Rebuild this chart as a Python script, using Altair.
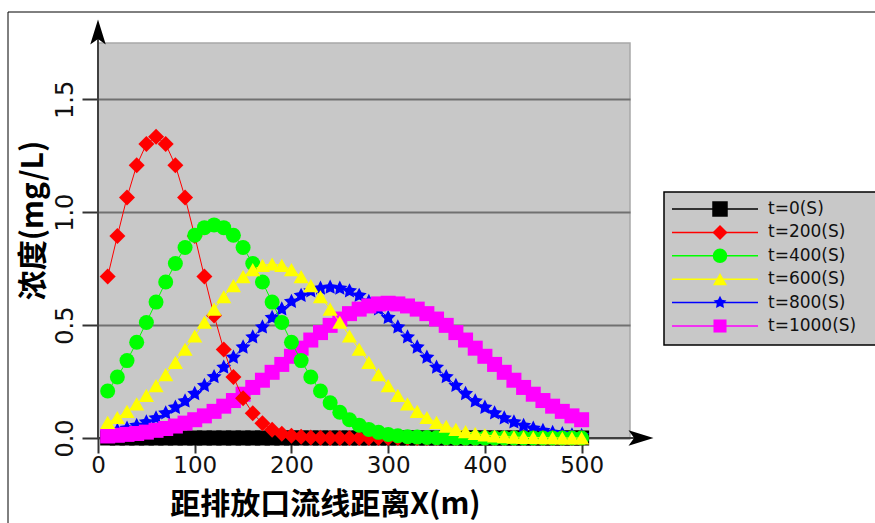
import altair as alt
import pandas as pd

# Distance along the streamline from the outfall (m)
distance_m = [10, 20, 30, 40, 50, 60, 70, 80, 90, 100,
              110, 120, 130, 140, 150, 160, 170, 180, 190, 200,
              210, 220, 230, 240, 250, 260, 270, 280, 290, 300,
              310, 320, 330, 340, 350, 360, 370, 380, 390, 400,
              410, 420, 430, 440, 450, 460, 470, 480, 490, 500]

# Concentration (mg/L) at each distance, one list per time
conc_t0 = [0.0, 0.0, 0.0, 0.0, 0.0, 0.0, 0.0, 0.0, 0.0, 0.0,
           0.0, 0.0, 0.0, 0.0, 0.0, 0.0, 0.0, 0.0, 0.0, 0.0,
           0.0, 0.0, 0.0, 0.0, 0.0, 0.0, 0.0, 0.0, 0.0, 0.0,
           0.0, 0.0, 0.0, 0.0, 0.0, 0.0, 0.0, 0.0, 0.0, 0.0,
           0.0, 0.0, 0.0, 0.0, 0.0, 0.0, 0.0, 0.0, 0.0, 0.0]
conc_t200 = [0.715, 0.895, 1.066, 1.208, 1.302, 1.335, 1.302, 1.208, 1.066, 0.895,
             0.715, 0.543, 0.392, 0.270, 0.176, 0.110, 0.065, 0.036, 0.019, 0.010,
             0.005, 0.002, 0.001, 0.0, 0.0, 0.0, 0.0, 0.0, 0.0, 0.0,
             0.0, 0.0, 0.0, 0.0, 0.0, 0.0, 0.0, 0.0, 0.0, 0.0,
             0.0, 0.0, 0.0, 0.0, 0.0, 0.0, 0.0, 0.0, 0.0, 0.0]
conc_t400 = [0.208, 0.270, 0.343, 0.424, 0.512, 0.602, 0.691, 0.773, 0.844, 0.898,
             0.932, 0.944, 0.932, 0.898, 0.844, 0.773, 0.691, 0.602, 0.512, 0.424,
             0.343, 0.270, 0.208, 0.156, 0.114, 0.081, 0.057, 0.038, 0.025, 0.016,
             0.010, 0.006, 0.004, 0.002, 0.001, 0.001, 0.0, 0.0, 0.0, 0.0,
             0.0, 0.0, 0.0, 0.0, 0.0, 0.0, 0.0, 0.0, 0.0, 0.0]
conc_t600 = [0.069, 0.091, 0.118, 0.151, 0.189, 0.232, 0.281, 0.335, 0.393, 0.452,
             0.513, 0.571, 0.626, 0.675, 0.715, 0.746, 0.765, 0.771, 0.765, 0.746,
             0.715, 0.675, 0.626, 0.571, 0.513, 0.452, 0.393, 0.335, 0.281, 0.232,
             0.189, 0.151, 0.118, 0.091, 0.069, 0.052, 0.038, 0.028, 0.020, 0.014,
             0.009, 0.006, 0.004, 0.003, 0.002, 0.001, 0.001, 0.0, 0.0, 0.0]
conc_t800 = [0.024, 0.032, 0.042, 0.055, 0.070, 0.088, 0.110, 0.135, 0.163, 0.196,
             0.232, 0.271, 0.313, 0.357, 0.402, 0.447, 0.491, 0.533, 0.571, 0.604,
             0.631, 0.651, 0.663, 0.667, 0.663, 0.651, 0.631, 0.604, 0.571, 0.533,
             0.491, 0.447, 0.402, 0.357, 0.313, 0.271, 0.232, 0.196, 0.163, 0.135,
             0.110, 0.088, 0.070, 0.055, 0.042, 0.032, 0.024, 0.018, 0.013, 0.010]
conc_t1000 = [0.009, 0.012, 0.016, 0.020, 0.026, 0.034, 0.042, 0.053, 0.066, 0.081,
              0.098, 0.118, 0.141, 0.166, 0.194, 0.224, 0.256, 0.291, 0.326, 0.362,
              0.398, 0.434, 0.467, 0.499, 0.527, 0.551, 0.571, 0.585, 0.594, 0.597,
              0.594, 0.585, 0.571, 0.551, 0.527, 0.499, 0.467, 0.434, 0.398, 0.362,
              0.326, 0.291, 0.256, 0.224, 0.194, 0.166, 0.141, 0.118, 0.098, 0.081]

series_labels = ["t=0(S)", "t=200(S)", "t=400(S)", "t=600(S)", "t=800(S)", "t=1000(S)"]
series_values = [conc_t0, conc_t200, conc_t400, conc_t600, conc_t800, conc_t1000]
series_colors = ["#000000", "#FF0000", "#00FF00", "#FFFF00", "#0000FF", "#FF00FF"]
STAR = ("M0,-1L0.294,-0.405L0.951,-0.309L0.476,0.155L0.588,0.809L0,0.5"
        "L-0.588,0.809L-0.476,0.155L-0.951,-0.309L-0.294,-0.405Z")
series_shapes = ["square", "diamond", "circle", "triangle-up", STAR, "square"]
series_sizes = [225, 256, 225, 230, 250, 225]
legend_sizes = [240, 170, 170, 190, 190, 220]
# stacking order of the curves (first is drawn at the bottom)
draw_order = [0, 4, 5, 1, 2, 3]

rows = []
for label, vals in zip(series_labels, series_values):
    for xv, cv in zip(distance_m, vals):
        rows.append({"series": label, "x": xv, "c": cv})
df = pd.DataFrame(rows)

TICK_FONT = "DejaVu Sans"
TITLE_FONT = "Noto Sans CJK SC"

x_enc = alt.X(
    "x:Q",
    scale=alt.Scale(domain=[0, 550], nice=False, zero=False),
    axis=alt.Axis(
        values=[0, 100, 200, 300, 400, 500], format="d",
        labelFont=TICK_FONT, labelFontSize=23, labelColor="#111111",
        labelPadding=1, labelFlush=False, labelOverlap=False,
        tickSize=15, tickWidth=2, tickColor="#333333",
        domain=False, grid=False, zindex=0,
        title="距排放口流线距离X(m)", titleFont=TITLE_FONT, titleFontSize=30,
        titleFontWeight="bold", titleColor="#000000",
        titleX=227, titleY=66, titleAlign="center", titleBaseline="middle",
    ),
)
y_enc = alt.Y(
    "c:Q",
    scale=alt.Scale(domain=[0, 1.75], nice=False),
    axis=alt.Axis(
        values=[0, 0.5, 1.0, 1.5], format=".1f",
        labelFont=TICK_FONT, labelFontSize=24, labelColor="#111111",
        labelAngle=270, labelAlign="center", labelBaseline="alphabetic",
        labelPadding=10, labelFlush=False, labelOverlap=False,
        tickSize=16, tickWidth=2, tickColor="#333333",
        domain=False, grid=True, gridColor="#707070", gridWidth=2, zindex=0,
        title="浓度(mg/L)", titleFont=TITLE_FONT, titleFontSize=30,
        titleFontWeight="bold", titleColor="#000000", titleAngle=270,
        titleX=-65, titleY=177, titleAlign="center", titleBaseline="middle",
    ),
)

curve_layers = []
for i in draw_order:
    sub = df[df["series"] == series_labels[i]]
    base = alt.Chart(sub)
    curve_layers.append(
        base.mark_line(strokeWidth=1, color=series_colors[i]).encode(x=x_enc, y=y_enc)
    )
    curve_layers.append(
        base.mark_point(filled=True, opacity=1, shape=series_shapes[i],
                        size=series_sizes[i], color=series_colors[i])
        .encode(x=x_enc, y=y_enc)
    )
curves = alt.layer(*curve_layers)

one = pd.DataFrame({"k": [0]})

# outer frame, axis lines with arrow heads
frame = alt.Chart(one).mark_rect(fillOpacity=0, stroke="#000000", strokeWidth=1).encode(
    x=alt.value(-90), x2=alt.value(820), y=alt.value(-31), y2=alt.value(600)
)
x_line = alt.Chart(one).mark_rule(color="#404040", strokeWidth=2).encode(
    x=alt.value(0), x2=alt.value(540), y=alt.value(395)
)
y_line = alt.Chart(one).mark_rule(color="#404040", strokeWidth=2).encode(
    x=alt.value(0), y=alt.value(-15), y2=alt.value(395)
)
up_arrow = alt.Chart(one).mark_point(
    shape="M0,-1L0.62,1L0,0.55L-0.62,1Z", filled=True, opacity=1, size=625, color="#000000"
).encode(x=alt.value(0), y=alt.value(-11))
right_arrow = alt.Chart(one).mark_point(
    shape="M1,0L-1,0.62L-0.55,0L-1,-0.62Z", filled=True, opacity=1, size=625, color="#000000"
).encode(x=alt.value(543), y=alt.value(395))
under = alt.layer(frame, x_line, y_line, up_arrow, right_arrow)

# legend panel
legend_df = pd.DataFrame({"series": series_labels, "row": [0, 1, 2, 3, 4, 5]})
row_y = alt.Y("row:Q", scale=alt.Scale(domain=[0, 5], range=[166, 283]), axis=None)
color_s = alt.Color("series:N", scale=alt.Scale(domain=series_labels, range=series_colors), legend=None)
shape_s = alt.Shape("series:N", scale=alt.Scale(domain=series_labels, range=series_shapes), legend=None)
size_s = alt.Size("series:N", scale=alt.Scale(domain=series_labels, range=legend_sizes), legend=None)

legend_box = alt.Chart(one).mark_rect(fill="#C8C8C8", stroke="#000000", strokeWidth=1.5).encode(
    x=alt.value(566), x2=alt.value(820), y=alt.value(149), y2=alt.value(302)
)
legend_line = alt.Chart(legend_df).mark_rule(strokeWidth=1.5).encode(
    x=alt.value(574), x2=alt.value(660), y=row_y, color=color_s
)
legend_mark = alt.Chart(legend_df).mark_point(filled=True, opacity=1).encode(
    x=alt.value(622), y=row_y, color=color_s, shape=shape_s, size=size_s
)
legend_text = alt.Chart(legend_df).mark_text(
    align="left", baseline="middle", font=TICK_FONT, fontSize=17, color="#111111"
).encode(x=alt.value(670), y=row_y, text="series:N")
legend = alt.layer(legend_box, legend_line, legend_mark, legend_text)

chart = alt.layer(under, curves, legend).resolve_scale(
    x="independent", y="independent", color="independent",
    shape="independent", size="independent"
).properties(
    width=532, height=395,
    padding={"left": 98, "top": 43, "right": 245, "bottom": 85},
    autosize=alt.AutoSizeParams(type="none"),
).configure_view(
    fill="#C8C8C8", stroke="#A8A8A8", strokeWidth=1.5
)

chart.save("out.html", embed_options={"renderer": "svg", "actions": False})
